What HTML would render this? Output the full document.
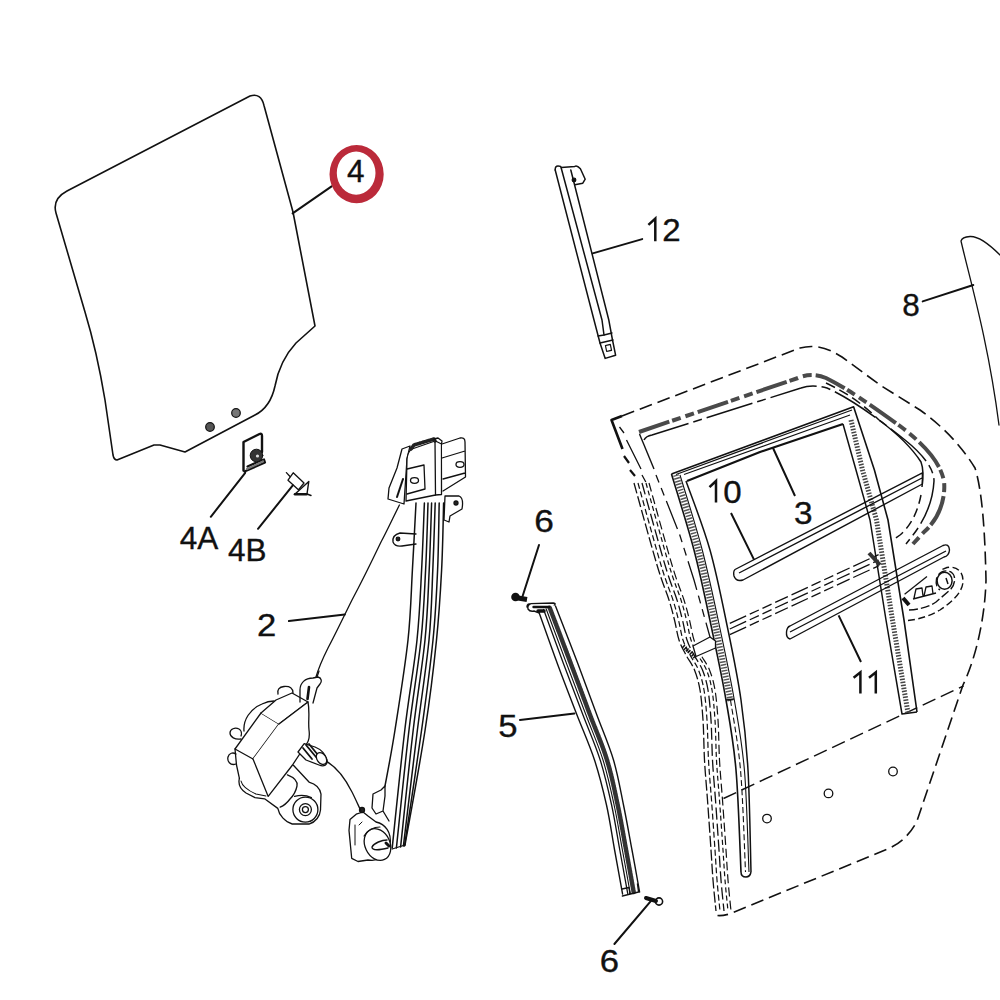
<!DOCTYPE html>
<html><head><meta charset="utf-8">
<style>
html,body{margin:0;padding:0;background:#fff;width:1000px;height:1000px;overflow:hidden}
svg{display:block}
text{font-family:"Liberation Sans",sans-serif;font-size:31.5px;fill:#111;stroke:#111;stroke-width:0.35}
</style></head><body>
<svg width="1000" height="1000" viewBox="0 0 1000 1000">
<g fill="none" stroke="#111" stroke-width="1.3" stroke-linejoin="round" stroke-linecap="round">
<path d="M67,191 L250,96 Q261,92.5 264,105.5 L293,212 L315,326 L296,343 C284,356 278,370 275,386 C272,400 265,410 255,415 L185,452 L160,445 L154,445 L117,460 Q114,460 113,455 L105,400 C100,370 95,345 85,312 L56,213 Q52,199 67,191 Z" stroke-width="1.6"/>
<circle cx="210" cy="427" r="4.3" fill="#555" stroke-width="1.2"/><circle cx="236" cy="413" r="4.3" fill="#777" stroke-width="1.2"/>
<path d="M243.5,470.5 L243.5,442 L259.5,434 Q262,433 262,436 L262,452" stroke-width="2.4"/>
<path d="M244.5,471.5 L265,462.5 L264,459.5 M247.5,466.5 L262,460" stroke-width="2.2"/>
<path d="M247,469 L263,461.5" stroke-width="2" stroke-dasharray="1.5 1.2" stroke="#777"/>
<circle cx="256.5" cy="455.5" r="6.3" fill="#333" stroke="#111" stroke-width="1"/><circle cx="257.5" cy="456" r="1.6" fill="#ddd" stroke="none"/>
<path d="M293.2,472.8 L304,483 L298.4,489.8 L288,480.2 Z" stroke-width="1.3"/>
<path d="M286.4,472.6 L290,476.5" stroke-width="1.3"/>
<path d="M308.8,481.4 L307,494 M294.8,494.2 L308.8,481.4 M307,494 L311,495.5" stroke-width="1.4"/>
<path d="M295,494.2 L306.5,494.2" stroke-width="2.6"/>
<path d="M555.2,170 Q555,166 558,166 Q561,166 561.2,167.6 L574.8,166.4 Q577,165 580.4,168.8 L585.2,179.2 L582.8,183.2 L574.8,184.8" stroke-width="1.5"/>
<path d="M555.2,170 L594,320 L600,343 L605.2,358.4 L615.6,355.2 L612.5,340 L608.8,320 L570.8,170 M561.2,168 L602,320 L604,335" stroke-width="1.5"/>
<path d="M600,343 L613,340 M598,336 L604,335 L612,333" stroke-width="1.4"/>
<rect x="606" y="345" width="5" height="6" fill="#fff" stroke-width="1.2" transform="rotate(-12 608 348)"/>
<circle cx="574" cy="180" r="1.8" fill="#111"/>
<path d="M538.5,611.0 C541.7,619.8 551.1,646.8 557.5,664.0 C563.9,681.2 570.4,698.0 576.6,714.0 C582.8,730.0 589.5,744.8 594.5,760.0 C599.5,775.2 603.1,790.0 606.5,805.0 C609.9,820.0 611.9,835.2 614.6,850.0 C617.3,864.8 621.3,886.7 622.6,894.0" stroke-width="1.4"/>
<path d="M543.6,609.5 C546.9,618.6 557.2,646.6 563.6,664.0 C570.1,681.4 576.5,698.0 582.6,714.0 C588.7,730.0 595.4,744.8 600.2,760.0 C605.0,775.2 608.3,790.0 611.6,805.0 C614.9,820.0 617.1,835.3 619.8,850.0 C622.5,864.7 626.4,886.2 627.7,893.4" stroke-width="1.3"/>
<path d="M549.7,607.7 C553.3,617.1 564.4,646.3 571.0,664.0 C577.7,681.7 583.7,698.0 589.7,714.0 C595.7,730.0 602.4,744.8 607.0,760.0 C611.7,775.2 614.5,790.0 617.7,805.0 C620.9,820.0 623.4,835.4 626.1,850.0 C628.8,864.6 632.5,885.6 633.8,892.7" stroke-width="4.5" stroke-dasharray="1.6 1.3" stroke="#333"/>
<path d="M546.1,608.8 C549.6,618.0 560.2,646.5 566.7,664.0 C573.3,681.5 579.5,698.0 585.6,714.0 C591.6,730.0 598.3,744.8 603.0,760.0 C607.8,775.2 610.9,790.0 614.1,805.0 C617.4,820.0 619.7,835.3 622.4,850.0 C625.1,864.7 628.9,885.9 630.2,893.1" stroke-width="1.1"/>
<path d="M555.5,606.0 C559.2,615.7 571.2,646.0 578.0,664.0 C584.8,682.0 590.6,698.0 596.5,714.0 C602.4,730.0 609.0,744.8 613.5,760.0 C618.0,775.2 620.4,790.0 623.5,805.0 C626.6,820.0 629.3,835.5 632.0,850.0 C634.7,864.5 638.3,885.0 639.6,892.0" stroke-width="1.4"/>
<path d="M527,607 Q527,603.5 531,603.6 L553.4,603 Q556.5,603.5 554.3,605 M531,603.6 Q527,605 528,609 Q530,612 534,611 L538.8,612.8" stroke-width="1.4"/>
<path d="M533.6,607 L549,607" stroke-width="2.6"/>
<path d="M538,611 L544,611" stroke-width="3.5"/>
<path d="M622.4,896 L638.6,892 L637.5,884 M622,889 L629,887.5 L630,894" stroke-width="1.4"/>
<circle cx="515.5" cy="597" r="4.3" fill="#111" stroke="none"/><path d="M515,597.5 L527,599.5" stroke-width="5.2" stroke-linecap="butt"/>
<path d="M646,898 L656,901" stroke-width="4"/><circle cx="659" cy="901.5" r="3.6" stroke-width="1.6"/>
<path d="M1000,255 C990,245 978,236 970,236.5 Q962,237 961,241 C970,280 988,340 999,425"/>
<g stroke-width="2"><path d="M292.6,213.4 L331.6,186.4"/><path d="M245.2,472.8 L210.8,516.8"/><path d="M292.8,485.4 L258,528.8"/><path d="M288.9,621.1 L344.8,614.6"/><path d="M592.7,253.4 L642.2,239.1"/><path d="M539,545 L522,598"/><path d="M520,720 L574.4,713.6"/><path d="M651,900.8 L614.4,944"/><path d="M973.3,285 L922.7,301.4"/></g>
<g id="reg"><path d="M402,449 L410,446 L407,459 L404,504 L388,499 L389,488 L397,468 Z" fill="#fff"/>
<path d="M397,497 L403,479" stroke-width="2"/>
<path d="M407,459 Q408,451 412,449 L435,441 L435.5,495 L406,501 Z" fill="#fff"/>
<path d="M411,449 L414,445 L434,439 L435,441" stroke-width="3.6" stroke="#222" stroke-dasharray="2 0.8"/>
<path d="M407,469 L424,465 L425,489 L407,494"/><ellipse cx="414.5" cy="480.5" rx="4" ry="2.8"/>
<path d="M435.5,441 L441.5,444 L441.5,494.5 L435.5,495 M434,439 L438,438 L442,441 L441.5,444"/>
<path d="M442,444 L460,438 Q465,437 465,442 L465.5,477 L443,491 M442,458 L465,451 M443,479 L465,473" fill="#fff"/><ellipse cx="460" cy="464.5" rx="4" ry="2.8"/>
<path d="M445,496 L459,496 Q464,498 462,509 L450,516 L449,522 L444,520 Z" fill="#fff"/><circle cx="456" cy="503" r="2" fill="#222"/>
<path d="M416,534 L400,533 Q392,535 393,542 Q395,547 402,546 L416,544" fill="#fff"/><circle cx="398" cy="539" r="1.8" fill="#222"/>
<path d="M416.0,503.0 C415.4,514.2 413.7,547.2 412.4,570.0 C411.1,592.8 410.9,613.3 408.0,640.0 C405.1,666.7 398.8,705.7 395.0,730.0 C391.2,754.3 386.7,776.7 385.0,786.0" stroke-width="1.5"/>
<path d="M424.4,503.0 C423.9,514.2 422.8,547.2 421.6,570.0 C420.4,592.8 419.8,613.3 417.0,640.0 C414.2,666.7 408.9,695.3 404.8,730.0 C400.7,764.7 394.3,828.3 392.2,848.0" stroke-width="1.5"/>
<path d="M428.0,503.0 C427.6,514.2 426.8,547.2 425.6,570.0 C424.4,592.8 423.8,613.3 421.0,640.0 C418.2,666.7 413.1,695.3 409.0,730.0 C404.9,764.7 398.5,828.3 396.4,848.0" stroke-width="1.5"/>
<path d="M431.6,503.0 C431.2,514.2 430.3,547.2 429.2,570.0 C428.1,592.8 427.7,613.3 425.0,640.0 C422.3,666.7 417.3,695.5 413.2,730.0 C409.1,764.5 402.7,827.5 400.6,847.0" stroke-width="1.5"/>
<path d="M435.2,503.0 C434.8,514.2 433.8,547.2 432.8,570.0 C431.8,592.8 431.6,613.3 429.0,640.0 C426.4,666.7 421.7,695.7 417.4,730.0 C413.1,764.3 405.7,826.7 403.4,846.0" stroke-width="1.5"/>
<path d="M439.2,503.0 C438.9,514.2 438.6,547.2 437.6,570.0 C436.6,592.8 435.7,613.3 433.0,640.0 C430.3,666.7 426.4,695.7 421.6,730.0 C416.9,764.3 407.4,826.7 404.5,846.0" stroke-width="1.5"/>
<path d="M443.6,503.0 C443.3,514.2 442.8,547.2 441.6,570.0 C440.4,592.8 439.2,613.3 436.5,640.0 C433.8,666.7 430.4,695.8 425.1,730.0 C419.9,764.2 408.4,825.8 405.0,845.0" stroke-width="1.5"/>
<path d="M392.2,849 L405,845"/>
<path d="M385,786 L381,790 L373,794 L372,808 L376,814 L383,811 L385,796 Z M383,811 L389,821"/>
<path d="M350,819.6 L356.2,814.2 L363,812 L368,816 L376,822 C385,824 392,832 390,845 C388,856 378,862 368,860 L358,861.5 L351.7,858.3 L349,830.4 Z" fill="#fff"/>
<ellipse cx="377.5" cy="844.5" rx="12.5" ry="16.5" transform="rotate(-25 377.5 844.5)" fill="#fff"/><path d="M364,836 C368,830 374,827 380,827" stroke-width="1.1"/><path d="M387,840 C382,840 374,843 372,847 C372,851 380,850 388,848" stroke-width="1.4"/><path d="M386,843 L389,846" stroke-width="3"/>
<path d="M355,825 L355,845 M359,825 L362,822" stroke-width="1"/><circle cx="362" cy="810" r="2.5" fill="#222"/>
<path d="M399.4,505 C392,520 385,535 381,542 C370,565 360,585 352,600 C345,614 335,635 328,648 C322,660 318,670 316,677"/>
<path d="M327,761.6 C336,767 345,778 352,792 C356,800 359,807 361,811"/>
<path d="M235,749 L261,713 L279,724 L253,759 Z" fill="#fff"/>
<path d="M261,713 L276,700 L292,693 L308,702 L279,724" fill="#fff"/>
<path d="M279,724 L308,702 C310,712 308,722 309,730 C310,737 309,742 305,746 L292.5,765 L268.2,796.4 L253,759" fill="#fff"/>
<path d="M244,731 C243,720 250,709 262,704 Q268,701 274,701"/>
<path d="M235,749 L236.5,765 L239.4,778.4"/>
<path d="M278,694 C277,690 279,687 284,686.5 C290,686 293,688 293,693"/>
<path d="M300,702 L300,690 C300,683 305,678 313,678 L318,677 C322,678 322,682 320,684 L317,688 L313,703"/>
<path d="M309,687 L307.5,699" stroke-width="2.6"/>
<path d="M317,677 L319,671"/>
<path d="M241,739 C235,740 230,737 230,733 C230,729 235,727 239,729 C241,730 242,733 241,736 M236,764 C230,766 227,761 228,757 C229,753 233,752 236,754"/>
<path d="M239.4,778.4 C238,784 240,789 246,793 L255,797.6 L264.6,798.8 L277.8,808.4 C279,815 285,822 292.2,824 L309,824 C316,822 320,816 320.5,810 L321,794 C320,788 316,784 309,782 L293.4,765.2"/>
<path d="M241,781 C242,786 247,790 256,794 L266,796" stroke-width="1.1"/>
<path d="M287.4,774.8 C293,777 298,781 297,786 C296,791 294,795 290,799 C287,803 283,806 280.2,807.2"/>
<circle cx="305.4" cy="809.6" r="12.5" fill="#fff"/><circle cx="305.4" cy="809.6" r="6"/><circle cx="305.4" cy="809.6" r="3"/>
<path d="M294.6,796.4 C300,795 306,795 311.4,797.6"/>
<path d="M304.2,743.6 L315,747 C320,749 325,753 327,760 C328,765 324,767 319,765 L306,760 L298,752 Z" fill="#fff"/>
<path d="M306,745 L316,757 M309,744 L318,755 M303,748 L312,759" stroke-width="1.8"/>
<ellipse cx="321.5" cy="758.5" rx="4.5" ry="6.5" transform="rotate(-35 321.5 758.5)" fill="#fff"/></g>
<g id="door" stroke-linecap="butt"><path d="M622,416 L800,348 C815,344 828,348 842,357 L880,385 L920,410 C945,428 962,447 975,468 C982,490 985,530 986,580 C985,620 975,660 963,685 L917,821 C910,835 900,843 890,848 L729.5,914 Q722,916 717.5,915.5" stroke-width="1.6" stroke-dasharray="13 6"/>
<path d="M622,416 L611.5,420 L622.5,449" stroke-width="2.6"/>
<path d="M723.5,798.5 L963.5,686" stroke-width="1.5" stroke-dasharray="14 6"/>
<path d="M639,432 L798,378 Q812,372 826,378 C850,390 875,408 900,426 C925,445 940,462 944,481 C946,500 938,520 924,532 L912,545" stroke-width="4" stroke="#4a4a4a" stroke-dasharray="32 3 9 5 9 4"/>
<path d="M644,440 Q646,436 652,435 L801,388 Q812,384 827,388 C850,398 880,420 905,440 C925,456 934,470 934,481 C933,500 925,520 913,535 L906,544" stroke-width="1.5" stroke-dasharray="48 5 9 5"/>
<path d="M879,420 C895,432 912,448 921,462 C924,470 923,480 922,487" stroke-width="1.5"/>
<path d="M921,495 C918,510 912,525 900,535 L893,540" stroke-width="1.5" stroke-dasharray="9 5"/>
<path d="M826,383 C845,392 862,403 879,420" stroke-width="1.5" stroke-dasharray="10 5"/>
<path d="M619.5,427 L624,433 M626.5,440 L641,469 M642,475 L645.8,482" stroke-width="1.3"/>
<path d="M634.0,483.0 C637.8,496.7 651.2,545.5 657.0,565.0 C662.8,584.5 666.1,590.8 669.0,600.0 C671.9,609.2 672.8,613.3 674.5,620.0 C676.2,626.7 677.1,634.2 679.0,640.0 C680.9,645.8 683.4,650.0 686.0,655.0 C688.6,660.0 692.2,664.2 694.5,670.0 C696.8,675.8 698.6,681.7 700.0,690.0 C701.4,698.3 702.2,708.3 703.0,720.0 C703.8,731.7 703.8,746.7 704.5,760.0 C705.2,773.3 706.4,785.0 707.5,800.0 C708.6,815.0 710.1,836.7 711.0,850.0 C711.9,863.3 712.2,869.8 713.0,880.0 C713.8,890.2 715.5,905.8 716.0,911.0" stroke-width="1.3" stroke-dasharray="11 3"/>
<path d="M638.0,483.0 C641.8,496.7 655.2,545.5 661.0,565.0 C666.8,584.5 670.1,590.8 673.0,600.0 C675.9,609.2 676.8,613.3 678.5,620.0 C680.2,626.7 681.1,634.2 683.0,640.0 C684.9,645.8 687.4,650.0 690.0,655.0 C692.6,660.0 696.2,664.2 698.5,670.0 C700.8,675.8 702.6,681.7 704.0,690.0 C705.4,698.3 706.2,708.3 707.0,720.0 C707.8,731.7 707.8,746.7 708.5,760.0 C709.2,773.3 710.4,785.0 711.5,800.0 C712.6,815.0 714.1,836.7 715.0,850.0 C715.9,863.3 716.2,869.8 717.0,880.0 C717.8,890.2 719.5,905.8 720.0,911.0" stroke-width="1.2" stroke-dasharray="6 3"/>
<path d="M642.0,483.0 C645.8,496.7 659.2,545.5 665.0,565.0 C670.8,584.5 674.1,590.8 677.0,600.0 C679.9,609.2 680.8,613.3 682.5,620.0 C684.2,626.7 685.1,634.2 687.0,640.0 C688.9,645.8 691.4,650.0 694.0,655.0 C696.6,660.0 700.2,664.2 702.5,670.0 C704.8,675.8 706.6,681.7 708.0,690.0 C709.4,698.3 710.2,708.3 711.0,720.0 C711.8,731.7 711.8,746.7 712.5,760.0 C713.2,773.3 714.4,785.0 715.5,800.0 C716.6,815.0 718.1,836.7 719.0,850.0 C719.9,863.3 720.2,869.8 721.0,880.0 C721.8,890.2 723.5,905.8 724.0,911.0" stroke-width="1.3" stroke-dasharray="12 4"/>
<path d="M646.0,483.0 C649.8,496.7 663.2,545.5 669.0,565.0 C674.8,584.5 678.1,590.8 681.0,600.0 C683.9,609.2 684.8,613.3 686.5,620.0 C688.2,626.7 689.1,634.2 691.0,640.0 C692.9,645.8 695.4,650.0 698.0,655.0 C700.6,660.0 704.2,664.2 706.5,670.0 C708.8,675.8 710.6,681.7 712.0,690.0 C713.4,698.3 714.2,708.3 715.0,720.0 C715.8,731.7 715.8,746.7 716.5,760.0 C717.2,773.3 718.4,785.0 719.5,800.0 C720.6,815.0 722.1,836.7 723.0,850.0 C723.9,863.3 724.2,869.8 725.0,880.0 C725.8,890.2 727.5,905.8 728.0,911.0" stroke-width="1.2" stroke-dasharray="5 3"/>
<path d="M649.0,483.0 C652.8,496.7 666.2,545.5 672.0,565.0 C677.8,584.5 681.1,590.8 684.0,600.0 C686.9,609.2 687.8,613.3 689.5,620.0 C691.2,626.7 692.1,634.2 694.0,640.0 C695.9,645.8 698.4,650.0 701.0,655.0 C703.6,660.0 707.2,664.2 709.5,670.0 C711.8,675.8 713.6,681.7 715.0,690.0 C716.4,698.3 717.2,708.3 718.0,720.0 C718.8,731.7 718.8,746.7 719.5,760.0 C720.2,773.3 721.4,785.0 722.5,800.0 C723.6,815.0 725.1,836.7 726.0,850.0 C726.9,863.3 727.2,869.8 728.0,880.0 C728.8,890.2 730.5,905.8 731.0,911.0" stroke-width="1.2" stroke-dasharray="9 4"/>
<path d="M624,456 L629,463 M630,470 L635,476" stroke-width="2.2"/>
<path d="M683,646 L696,658" stroke-width="4" stroke-dasharray="1.5 1"/>
<path d="M639.5,434 L654,469" stroke-width="1.4"/>
<path d="M656,475 L679.4,533.8 L694,580 L710,637" stroke-width="1.3" stroke-dasharray="8 6 8 6 30 6"/>
<path d="M671.5,474.0 C675.2,486.7 687.2,524.0 694.0,550.0 C700.8,576.0 706.7,605.0 712.0,630.0 C717.3,655.0 722.0,676.7 726.0,700.0 C730.0,723.3 733.5,741.3 736.0,770.0 C738.5,798.7 740.2,855.0 741.0,872.0" stroke-width="1.6"/>
<path d="M671.5,474 L853.6,406.8 L874.4,470 L888,520 L904,620 L917,712" stroke-width="1.6"/>
<path d="M676,474.5 L852,410 M684,474.5 L850,415" stroke-width="1.2"/>
<path d="M687,481 L760,452 L843,424" stroke-width="2.2"/>
<path d="M676.0,475.0 C679.8,487.7 691.8,525.0 698.5,551.0 C705.2,577.0 711.2,606.0 716.5,631.0 C721.8,656.0 728.2,689.3 730.5,701.0" stroke-width="6" stroke="#555" stroke-dasharray="1.5 1.5"/>
<path d="M726,700 L734,699" stroke-width="1.3"/>
<path d="M730.5,700.0 C732.2,711.7 738.0,741.3 740.5,770.0 C743.0,798.7 744.7,855.0 745.5,872.0" stroke-width="1.1" stroke-dasharray="6 3"/>
<path d="M680.0,475.0 C683.8,487.7 695.8,525.0 702.5,551.0 C709.2,577.0 715.2,606.0 720.5,631.0 C725.8,656.0 730.5,677.7 734.5,701.0 C738.5,724.3 742.1,742.5 744.5,771.0 C746.9,799.5 748.2,855.2 749.0,872.0" stroke-width="1.1"/>
<path d="M686.0,481.0 C690.0,492.5 703.0,525.2 710.0,550.0 C717.0,574.8 722.8,605.0 728.0,630.0 C733.2,655.0 737.7,676.7 741.0,700.0 C744.3,723.3 746.3,741.3 748.0,770.0 C749.7,798.7 750.5,855.0 751.0,872.0" stroke-width="1.5"/>
<path d="M751,872 Q750,877 746,877 Q741,877 741,872" stroke-width="1.5"/>
<path d="M843,424 L856,470 L870,520 L886,620 L902,714 L917,712" stroke-width="1.5"/>
<path d="M851,420 L862.5,470 L876.5,520 L892.5,620 L908,713" stroke-width="5" stroke="#444" stroke-dasharray="1.5 1.5"/>
<path d="M735,569.5 L922.4,472.8 L922.4,484 L743,580 Q736,582 734,576 Q733,571 735,569.5 Z M739,573 L922,478" stroke-width="1.4"/>
<path d="M790,626 L943,545.5 Q949,543 949.5,550 Q949,556 944,557 L790,639 Q786,638 786.5,632 Q787,627 790,626 Z M790,632 L946,551" stroke-width="1.4"/>
<path d="M729.8,623.4 L878.6,554.6 M729.8,629 L878.6,560.2 M729.8,634.6 L878.6,565.8" stroke-width="1.3" stroke-dasharray="18 4 10 4 10 4 14 4"/>
<path d="M869,553 L880,565" stroke-width="4" stroke="#333"/>
<path d="M693,646 L710,637 L715.5,641 L715.5,648 L696,656.5 Z" stroke-width="1.3" fill="#fff"/>
<path d="M908,620.5 C918,619.5 930,616 940,610 C952,602 963,592 963,581 C963,570 955,566 947,567.5 L941,570" stroke-width="1.4" stroke-dasharray="7 3.5"/>
<path d="M909,610 C918,609.5 928,607.5 936,602 L950,590 C956,584 956,575 951,572 C945,569 938,572 936.5,579 C935.5,584 937,588 940,590" stroke-width="1.4" stroke-dasharray="9 3"/>
<ellipse cx="944.6" cy="580.8" rx="7.5" ry="8.5" stroke-width="1.5"/>
<path d="M946,578 L948,584" stroke-width="1.5"/>
<path d="M904.6,594.2 L927,576.6" stroke-width="1.3"/>
<path d="M914,598 L916,589 L922,588 L923,596 M924,596 L926,587 L932,586 L933,594 M913,599 L936,593" stroke-width="1.3"/>
<path d="M903,598 L909,605" stroke-width="4"/>
<circle cx="767" cy="818.6" r="4.3" stroke-width="1.3"/><circle cx="828.5" cy="793.4" r="4.3" stroke-width="1.3"/><circle cx="893" cy="771.5" r="4.3" stroke-width="1.3"/>
<path d="M773,448 L795,496 M731,513 L754,559.6 M838.6,615.4 L861,662" stroke-width="2"/></g>
</g>
<path fill-rule="evenodd" fill="#bb2a3a" stroke="none" d="M329.5,174.15 A27.1,29.15 0 1 0 383.7,174.15 A27.1,29.15 0 1 0 329.5,174.15 Z M336.8,173.1 A19.35,21.6 0 1 0 375.5,173.1 A19.35,21.6 0 1 0 336.8,173.1 Z"/>
<text x="346.9" y="182.2">4</text>
<text x="179.7" y="548.5">4A</text>
<text x="227.9" y="560.6">4B</text>
<text x="257.2" y="635.8" transform="translate(258.8,0) scale(1.1,1) translate(-258.8,0)">2</text>
<text x="662.4" y="241.3" transform="translate(664.0,0) scale(1.05,1) translate(-664.0,0)">2</text>
<text x="534.4" y="531.8" transform="translate(536.0,0) scale(1.12,1) translate(-536.0,0)">6</text>
<text x="498.4" y="736.6" transform="translate(499.7,0) scale(1.1,1) translate(-499.7,0)">5</text>
<text x="599.9" y="971.6" transform="translate(601.5,0) scale(1.1,1) translate(-601.5,0)">6</text>
<text x="902.2" y="315.8">8</text>
<text x="723.4" y="502.8" transform="translate(724.7,0) scale(1.05,1) translate(-724.7,0)">0</text>
<text x="794.2" y="523.8" transform="translate(795.5,0) scale(1.06,1) translate(-795.5,0)">3</text>
<path d="M648.4,224.8 L655.3,218.5 L655.3,241.2" fill="none" stroke="#111" stroke-width="2.5" stroke-linejoin="miter" stroke-linecap="butt"/>
<path d="M709.5,487.2 L716,481 L716,502.4" fill="none" stroke="#111" stroke-width="2.5" stroke-linejoin="miter" stroke-linecap="butt"/>
<path d="M853.6,677.8 L860.4,672.3 L860.4,693.6" fill="none" stroke="#111" stroke-width="2.5" stroke-linejoin="miter" stroke-linecap="butt"/>
<path d="M869,677.8 L875.8,672.3 L875.8,693.6" fill="none" stroke="#111" stroke-width="2.5" stroke-linejoin="miter" stroke-linecap="butt"/>
</svg>
</body></html>
